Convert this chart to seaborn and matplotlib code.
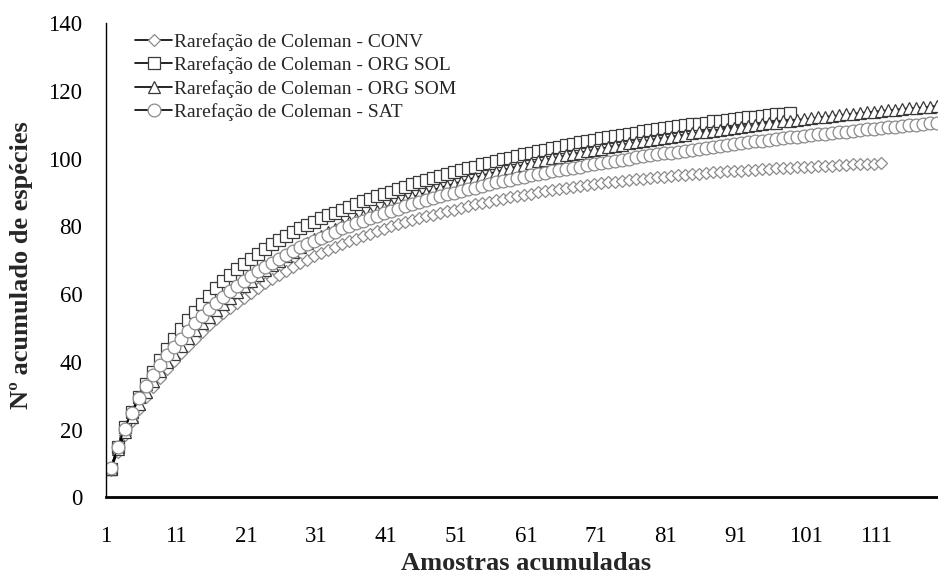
import matplotlib
matplotlib.use('Agg')
import matplotlib.pyplot as plt
import seaborn as sns
import numpy as np

# Curvas de rarefação (Coleman), espécies acumuladas por amostra
conv = [8.0, 13.5, 18.3, 22.5, 26.2, 29.5, 32.5, 35.3, 37.9, 40.3,
        42.6, 44.8, 46.9, 48.9, 50.8, 52.6, 54.3, 55.9, 57.5, 59.0,
        60.4, 61.8, 63.2, 64.5, 65.7, 66.9, 68.1, 69.2, 70.2, 71.2,
        72.2, 73.1, 74.0, 74.8, 75.6, 76.4, 77.2, 77.9, 78.6, 79.3,
        80.0, 80.6, 81.2, 81.8, 82.4, 83.0, 83.5, 84.0, 84.5, 85.0,
        85.5, 86.0, 86.5, 86.9, 87.3, 87.7, 88.2, 88.6, 88.9, 89.3,
        89.7, 90.1, 90.4, 90.7, 91.1, 91.4, 91.7, 91.9, 92.2, 92.5,
        92.7, 93.0, 93.2, 93.4, 93.7, 93.9, 94.1, 94.3, 94.5, 94.7,
        94.9, 95.1, 95.3, 95.4, 95.6, 95.8, 96.0, 96.1, 96.3, 96.4,
        96.5, 96.7, 96.8, 96.9, 97.0, 97.2, 97.3, 97.4, 97.5, 97.6,
        97.7, 97.8, 97.9, 98.0, 98.1, 98.2, 98.3, 98.4, 98.4, 98.5,
        98.6]

org_sol = [8.5, 15.0, 20.7, 25.3, 29.7, 33.5, 37.1, 40.5, 43.7, 46.7,
           49.6, 52.3, 54.8, 57.2, 59.5, 61.7, 63.8, 65.8, 67.5, 69.0,
           70.5, 72.0, 73.4, 74.7, 75.9, 77.1, 78.3, 79.4, 80.4, 81.4,
           82.4, 83.3, 84.1, 85.0, 85.8, 86.6, 87.4, 88.2, 88.9, 89.6,
           90.3, 91.0, 91.7, 92.4, 93.0, 93.6, 94.3, 94.9, 95.5, 96.1,
           96.6, 97.2, 97.7, 98.3, 98.8, 99.3, 99.8, 100.3, 100.8, 101.3,
           101.8, 102.2, 102.7, 103.1, 103.6, 104.0, 104.4, 104.8, 105.2, 105.6,
           106.0, 106.4, 106.7, 107.1, 107.4, 107.7, 108.1, 108.4, 108.7, 109.0,
           109.3, 109.6, 109.9, 110.2, 110.4, 110.7, 111.0, 111.2, 111.5, 111.7,
           112.0, 112.2, 112.4, 112.7, 112.9, 113.1, 113.3, 113.5]

org_som = [8.3, 14.2, 19.3, 23.7, 27.6, 31.1, 34.3, 37.2, 39.9, 42.4,
           44.8, 47.1, 49.3, 51.4, 53.4, 55.3, 57.2, 59.0, 60.7, 62.4,
           64.0, 65.6, 67.1, 68.5, 69.9, 71.3, 72.6, 73.8, 75.0, 76.2,
           77.3, 78.3, 79.3, 80.3, 81.2, 82.1, 83.0, 83.9, 84.7, 85.5,
           86.3, 87.1, 87.9, 88.6, 89.3, 90.0, 90.7, 91.4, 92.0, 92.6,
           93.2, 93.8, 94.4, 95.0, 95.6, 96.1, 96.6, 97.2, 97.7, 98.2,
           98.7, 99.2, 99.6, 100.1, 100.5, 101.0, 101.4, 101.8, 102.2, 102.6,
           103.0, 103.4, 103.8, 104.1, 104.5, 104.9, 105.2, 105.5, 105.9, 106.2,
           106.5, 106.8, 107.1, 107.5, 107.8, 108.0, 108.3, 108.6, 108.9, 109.2,
           109.4, 109.7, 110.0, 110.2, 110.5, 110.7, 111.0, 111.2, 111.5, 111.7,
           111.9, 112.2, 112.4, 112.6, 112.8, 113.1, 113.3, 113.5, 113.7, 113.9,
           114.1, 114.3, 114.5, 114.7, 114.9, 115.0, 115.2, 115.4, 115.6]

sat = [8.6, 14.8, 20.3, 25.0, 29.2, 32.9, 36.1, 39.1, 41.9, 44.5,
       46.9, 49.2, 51.4, 53.5, 55.5, 57.4, 59.2, 60.9, 62.5, 64.0,
       65.4, 66.8, 68.1, 69.3, 70.5, 71.7, 72.8, 73.8, 74.8, 75.8,
       76.7, 77.6, 78.5, 79.4, 80.2, 81.0, 81.7, 82.5, 83.2, 83.9,
       84.6, 85.3, 85.9, 86.6, 87.2, 87.8, 88.4, 88.9, 89.5, 90.0,
       90.5, 91.0, 91.5, 92.0, 92.5, 93.0, 93.4, 93.8, 94.3, 94.7,
       95.1, 95.5, 95.9, 96.3, 96.6, 97.0, 97.4, 97.7, 98.1, 98.4,
       98.7, 99.1, 99.4, 99.7, 100.0, 100.4, 100.7, 101.0, 101.3, 101.6,
       101.8, 102.1, 102.4, 102.7, 103.0, 103.2, 103.5, 103.8, 104.0, 104.3,
       104.6, 104.8, 105.1, 105.3, 105.6, 105.8, 106.0, 106.3, 106.5, 106.7,
       106.9, 107.2, 107.4, 107.6, 107.8, 108.0, 108.2, 108.4, 108.7, 108.9,
       109.1, 109.3, 109.5, 109.7, 109.9, 110.1, 110.3, 110.5, 110.7]

nomes = ['Rarefação de Coleman - CONV', 'Rarefação de Coleman - ORG SOL',
         'Rarefação de Coleman - ORG SOM', 'Rarefação de Coleman - SAT']
rotulos_x = list(range(1, 112, 10))

sns.set_theme(style='white')
plt.rcParams['font.family'] = ['Liberation Serif', 'DejaVu Serif']

fig = plt.figure(figsize=(9.38, 5.74), dpi=100)
ax = fig.add_axes([0.113, 0.1336, 0.887, 0.8258])

# marcador, cor da borda, tamanho
estilos = [('D', '#8a8a8a', 6.2), ('s', '#3a3a3a', 8.8),
           ('^', '#3a3a3a', 9.2), ('o', '#8a8a8a', 9.2)]

for serie, nome, (mk, cor, ms) in zip([conv, org_sol, org_som, sat], nomes, estilos):
    amostras = np.arange(1, len(serie) + 1)
    sns.lineplot(x=amostras, y=serie, ax=ax, color='black', linewidth=1.2,
                 marker=mk, markersize=ms, markerfacecolor='white',
                 markeredgecolor=cor, markeredgewidth=0.9, label=nome)

ax.set_xlim(0.33, 119.2)
ax.set_ylim(0, 140)
ax.set_yticks(range(0, 141, 20))
ax.set_xticks([r - 0.67 for r in rotulos_x])
ax.set_xticklabels(rotulos_x)

for lado in ['top', 'right']:
    ax.spines[lado].set_visible(False)
ax.spines['left'].set_linewidth(1.0)
ax.spines['bottom'].set_linewidth(2.0)
ax.spines['left'].set_color('black')
ax.spines['bottom'].set_color('black')

ax.tick_params(axis='both', direction='out', length=5, width=1,
               colors='black', labelsize=16.5)
ax.tick_params(axis='x', pad=16)
ax.tick_params(axis='y', pad=12)

ax.set_xlabel('Amostras acumuladas', fontsize=19, fontweight='bold')
ax.set_ylabel('Nº acumulado de espécies', fontsize=19, fontweight='bold')
ax.xaxis.set_label_coords(0.505, -0.139)
ax.xaxis.label.set_va('center')
ax.yaxis.set_label_coords(-0.101, 0.49)
ax.yaxis.label.set_va('center')

ax.legend(loc='upper left', bbox_to_anchor=(0.144, 0.943),
          bbox_transform=fig.transFigure, frameon=False, fontsize=14,
          handlelength=1.9, handletextpad=0.1, labelspacing=0.29,
          borderpad=0, borderaxespad=0)

plt.savefig('out.png', dpi=100)
